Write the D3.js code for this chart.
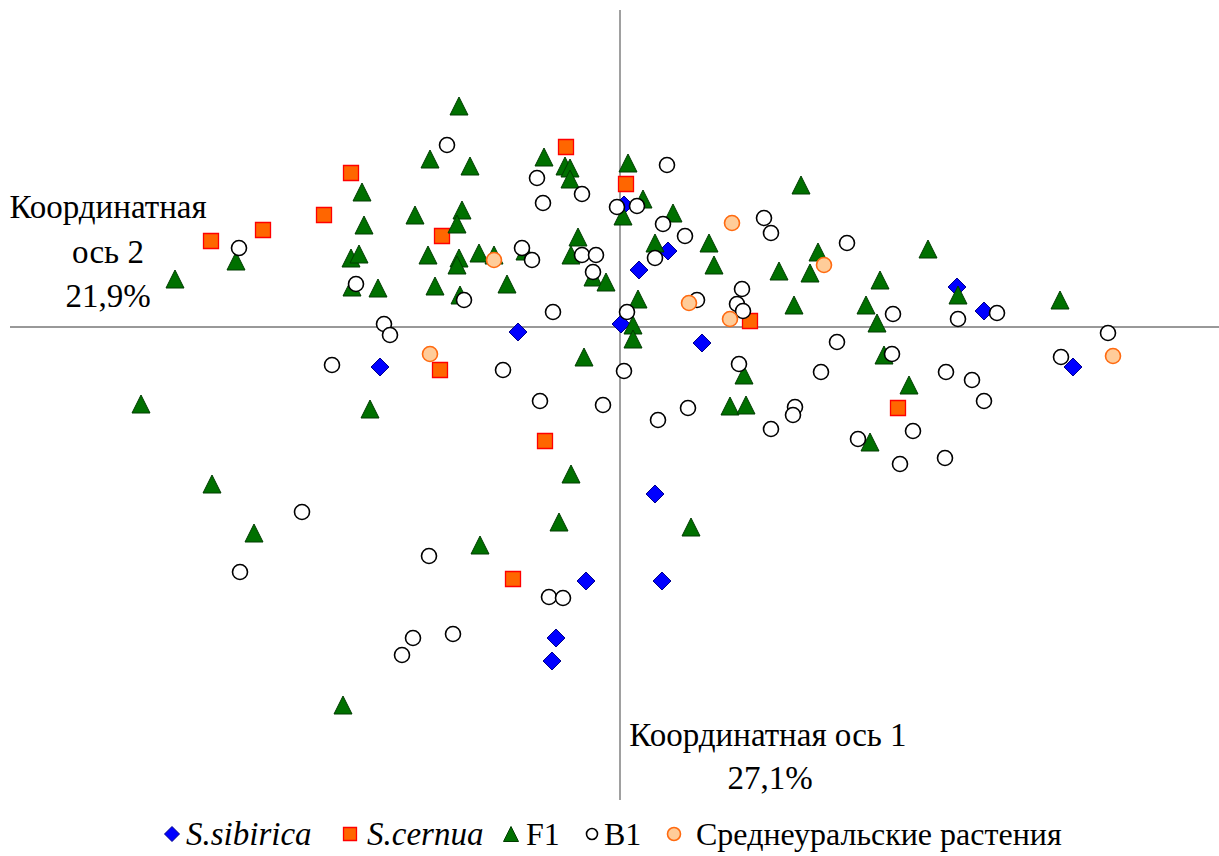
<!DOCTYPE html>
<html>
<head>
<meta charset="utf-8">
<script src="https://cdn.jsdelivr.net/npm/d3@7"></script>
<style>
  body { margin: 0; background: #fff; }
</style>
</head>
<body>
<div id="chart"></div>
<script>
// Ordination scores (axis 1, axis 2)
const sibirica = [
  [0.04, 1.22], [0.19, 0.57], [0.48, 0.76], [-1.02, -0.05], [0.01, 0.03],
  [0.82, -0.16], [-2.40, -0.40], [3.37, 0.40], [3.64, 0.16], [4.53, -0.40],
  [0.35, -1.67], [-0.34, -2.54], [0.42, -2.54], [-0.64, -3.11], [-0.68, -3.34]
];
const cernua = [
  [-4.09, 0.86], [-3.57, 0.97], [-2.96, 1.12], [-2.69, 1.54], [-1.78, 0.91],
  [-0.54, 1.80], [0.06, 1.43], [1.30, 0.06], [-1.80, -0.43], [-0.75, -1.14],
  [2.78, -0.81], [-1.07, -2.52]
];
const f1 = [
  [-1.61, 2.21], [-1.90, 1.68], [-1.50, 1.61], [-2.58, 1.35], [-2.56, 1.02],
  [-2.05, 1.12], [-1.58, 1.17], [-1.63, 1.03], [-2.69, 0.69], [-2.61, 0.73],
  [-3.84, 0.66], [-4.45, 0.48], [-2.68, 0.40], [-2.42, 0.39], [-1.92, 0.72],
  [-1.85, 0.41], [-1.61, 0.69], [-1.63, 0.62], [-1.60, 0.32], [-1.41, 0.74],
  [-1.26, 0.72], [-1.13, 0.43], [-0.95, 0.76], [-0.76, 1.70], [-0.55, 1.61],
  [-0.50, 1.59], [-0.50, 1.48], [-0.42, 0.90], [-0.49, 0.72], [-0.27, 0.50],
  [-0.14, 0.45], [0.08, 1.64], [0.03, 1.11], [0.23, 1.28], [0.53, 1.14],
  [0.35, 0.84], [0.18, 0.28], [0.13, 0.02], [0.13, -0.12], [0.89, 0.84],
  [0.94, 0.62], [1.81, 1.42], [1.59, 0.56], [1.90, 0.54], [1.98, 0.75],
  [1.74, 0.22], [2.46, 0.22], [2.57, 0.04], [2.60, 0.47], [3.08, 0.78],
  [3.38, 0.32], [4.40, 0.27], [2.64, -0.28], [2.89, -0.58], [1.24, -0.48],
  [1.10, -0.79], [1.26, -0.78], [2.50, -1.15], [-0.36, -0.30], [-2.50, -0.82],
  [-4.79, -0.77], [-4.08, -1.57], [-3.66, -2.06], [-1.40, -2.18], [-0.61, -1.95],
  [-0.49, -1.47], [0.71, -2.00], [-2.77, -3.78]
];
const b1 = [
  [-1.73, 1.82], [-3.81, 0.79], [-2.64, 0.43], [-1.56, 0.27], [-0.83, 1.49],
  [-0.77, 1.24], [-0.38, 1.33], [-0.98, 0.79], [-0.88, 0.67], [-0.38, 0.72],
  [-0.24, 0.72], [-0.27, 0.55], [-0.67, 0.15], [-0.03, 1.20], [0.17, 1.21],
  [0.43, 1.03], [0.47, 1.62], [0.65, 0.91], [0.35, 0.69], [0.07, 0.15],
  [0.77, 0.27], [1.22, 0.38], [1.17, 0.23], [1.23, 0.16], [1.44, 1.09],
  [1.51, 0.94], [2.27, 0.84], [2.73, 0.13], [3.38, 0.08], [3.77, 0.14],
  [4.41, -0.30], [4.88, -0.06], [-2.36, 0.03], [-2.30, -0.08], [-2.88, -0.38],
  [-1.17, -0.43], [-0.80, -0.74], [-0.17, -0.78], [0.04, -0.44], [0.38, -0.93],
  [0.68, -0.81], [1.19, -0.37], [2.17, -0.15], [2.01, -0.45], [2.72, -0.27],
  [3.26, -0.45], [3.52, -0.53], [3.64, -0.74], [1.75, -0.80], [1.73, -0.88],
  [1.51, -1.02], [2.38, -1.12], [2.93, -1.04], [2.80, -1.37], [3.25, -1.31],
  [-3.18, -1.85], [-3.80, -2.45], [-1.91, -2.29], [-2.07, -3.11], [-2.18, -3.28],
  [-1.67, -3.07], [-0.71, -2.70], [-0.57, -2.71]
];
const ural = [
  [-1.26, 0.67], [1.12, 1.04], [2.04, 0.62], [0.69, 0.24], [1.10, 0.08],
  [-1.90, -0.27], [4.93, -0.29]
];
const legendLabels = ['S.sibirica', 'S.cernua', 'F1', 'B1', 'Среднеуральские растения'];

const width = 1219, height = 856;
const FONT = '"Liberation Serif", "Times New Roman", Times, "DejaVu Serif", serif';

const svg = d3.select('#chart').append('svg')
    .attr('width', width)
    .attr('height', height);

const x = d3.scaleLinear().domain([-6.1, 5.99]).range([10, 1219]);
const y = d3.scaleLinear().domain([3.17, -4.73]).range([10, 800]);

// custom marker shapes (size = edge of bounding box)
const diamondShape = { draw(ctx, s) { const r = s / 2; ctx.moveTo(0, -r); ctx.lineTo(r, 0); ctx.lineTo(0, r); ctx.lineTo(-r, 0); ctx.closePath(); } };
const squareShape = { draw(ctx, s) { const r = s / 2; ctx.rect(-r, -r, s, s); } };
const triangleShape = { draw(ctx, s) { const r = s / 2; ctx.moveTo(0, -r); ctx.lineTo(r, r); ctx.lineTo(-r, r); ctx.closePath(); } };
const circleShape = { draw(ctx, s) { const r = s / 2; ctx.moveTo(r, 0); ctx.arc(0, 0, r, 0, 2 * Math.PI); } };

const series = [
  { data: sibirica, shape: diamondShape, size: 18, legSize: 15, fill: '#0000ff', stroke: '#00008b', sw: 1, italic: true },
  { data: cernua, shape: squareShape, size: 15, legSize: 13, fill: '#ff6600', stroke: '#ff0000', sw: 1.3, italic: true },
  { data: f1, shape: triangleShape, size: 18, legSize: 15, fill: '#007000', stroke: '#003c00', sw: 1, italic: false },
  { data: b1, shape: circleShape, size: 15, legSize: 11, fill: '#ffffff', stroke: '#000000', sw: 1.6, italic: false },
  { data: ural, shape: circleShape, size: 15, legSize: 13, fill: '#ffcc99', stroke: '#ff6a10', sw: 1.6, italic: false }
];

// axes through the origin
svg.append('line')
    .attr('x1', x(0)).attr('x2', x(0))
    .attr('y1', y.range()[0]).attr('y2', y.range()[1])
    .attr('stroke', '#808080').attr('stroke-width', 1.5);
svg.append('line')
    .attr('x1', x.range()[0]).attr('x2', x.range()[1])
    .attr('y1', y(0)).attr('y2', y(0))
    .attr('stroke', '#333').attr('stroke-width', 1);

// points
series.forEach(s => {
  svg.append('g').selectAll('path')
    .data(s.data)
    .enter()
    .append('path')
    .attr('transform', d => `translate(${x(d[0])},${y(d[1])})`)
    .attr('d', d3.symbol().type(s.shape).size(s.size))
    .attr('fill', s.fill)
    .attr('stroke', s.stroke)
    .attr('stroke-width', s.sw);
});

// axis captions
const fs = 33;
const yCap = svg.append('text').attr('font-family', FONT).attr('font-size', fs).attr('text-anchor', 'middle');
yCap.append('tspan').attr('x', 108).attr('y', 218).text('Координатная');
yCap.append('tspan').attr('x', 108).attr('y', 263).text('ось 2');
yCap.append('tspan').attr('x', 108).attr('y', 307).text('21,9%');

const xCap = svg.append('text').attr('font-family', FONT).attr('font-size', fs).attr('text-anchor', 'middle');
xCap.append('tspan').attr('x', 768).attr('y', 746).text('Координатная ось 1');
xCap.append('tspan').attr('x', 770).attr('y', 789).text('27,1%');

// legend
const legMarkX = [172, 350, 511, 592, 674];
const legTextX = [186, 367, 526, 604, 696];
const ly = 834;
const legend = svg.append('g');
legendLabels.forEach((label, i) => {
  const s = series[i];
  legend.append('path')
    .attr('transform', `translate(${legMarkX[i]},${ly})`)
    .attr('d', d3.symbol().type(s.shape).size(s.legSize))
    .attr('fill', s.fill)
    .attr('stroke', s.stroke)
    .attr('stroke-width', s.sw);
  legend.append('text')
    .attr('x', legTextX[i])
    .attr('y', ly + 11)
    .attr('font-family', FONT)
    .attr('font-size', s.italic ? 33 : 32)
    .attr('font-style', s.italic ? 'italic' : 'normal')
    .text(label);
});
</script>
</body>
</html>
